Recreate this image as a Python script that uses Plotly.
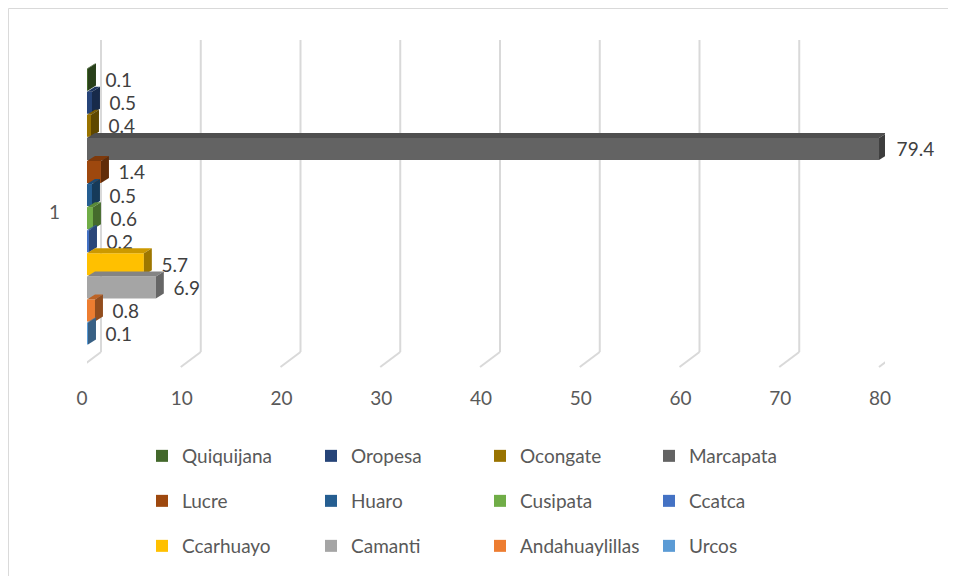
import plotly.graph_objects as go

# districts, top to bottom as drawn (legend order too)
districts = ["Quiquijana", "Oropesa", "Ocongate", "Marcapata",
             "Lucre", "Huaro", "Cusipata", "Ccatca",
             "Ccarhuayo", "Camanti", "Andahuaylillas", "Urcos"]
shares = [0.1, 0.5, 0.4, 79.4, 1.4, 0.5, 0.6, 0.2, 5.7, 6.9, 0.8, 0.1]
colors = ["#43682B", "#264478", "#997300", "#636363",
          "#9E480E", "#255E91", "#70AD47", "#4472C4",
          "#FFC000", "#A5A5A5", "#ED7D31", "#5B9BD5"]
category = ["1"]
x_ticks = [0, 10, 20, 30, 40, 50, 60, 70, 80]

FONT = "Lato, 'Open Sans', sans-serif"
legend_rows = ["legend", "legend2", "legend3"]

# plot box in figure pixels
L, T, B, PW, PH = 79, 32, 344, 797.6, 312
BARGAP, GROUPGAP = 0.112, 0.045
DX, DY = 0.8, 5  # fake 3d depth: x in data units, y in pixels


def shade(hexcol, k):
    r, g, b = (int(hexcol[i:i + 2], 16) for i in (1, 3, 5))
    return "rgb(%d,%d,%d)" % (r * k, g * k, b * k)


fig = go.Figure()
for i, (name, val, col) in enumerate(zip(districts, shares, colors)):
    fig.add_trace(go.Bar(
        y=category, x=[val], name=name, orientation="h",
        marker=dict(color=col, line=dict(width=0)),
        text=[val], texttemplate="\u00a0\u00a0\u00a0%{x}", textposition="outside",
        textfont=dict(size=19, color="#404040", family=FONT),
        constraintext="none", cliponaxis=False,
        legend=legend_rows[i // 4],
    ))

# top and side faces so the bars read as 3d blocks
slot = (1 - BARGAP) / len(districts)
half = slot * (1 - GROUPGAP) / 2 * PH  # half bar thickness in px
for i, (val, col) in enumerate(zip(shares, colors)):
    yc = -(1 - BARGAP) / 2 + (i + 0.5) * slot
    top = ("M 0,%.1f L %s,%.1f L %s,%.1f L %s,%.1f Z"
           % (half, val, half, val + DX, half + DY, DX, half + DY))
    side = ("M %s,%.1f L %s,%.1f L %s,%.1f L %s,%.1f Z"
            % (val, half, val, -half, val + DX, -half + DY, val + DX, half + DY))
    for path, k in ((top, 0.8), (side, 0.62)):
        fig.add_shape(type="path", xref="x", yref="y", ysizemode="pixel", yanchor=yc,
                      path=path, fillcolor=shade(col, k), line=dict(width=0))

# slanted 3d-ish gridlines: back wall + floor diagonal
for v in x_ticks:
    fig.add_shape(type="line", xref="x", yref="paper", xsizemode="pixel", xanchor=v,
                  x0=14, x1=14, y0=0, y1=1, line=dict(color="#d9d9d9", width=2), layer="below")
    fig.add_shape(type="line", xref="x", yref="paper", xsizemode="pixel", xanchor=v,
                  x0=14, x1=-6, y0=0, y1=-15 / PH, line=dict(color="#d9d9d9", width=2), layer="below")

# chart border
fig.add_shape(type="rect", xref="paper", yref="paper",
              x0=(0.5 - L) / PW, x1=(1000 - L) / PW,
              y0=(B - 620) / PH, y1=(B - 0.5) / PH,
              line=dict(color="#d9d9d9", width=1), fillcolor="rgba(0,0,0,0)", layer="below")

fig.update_xaxes(range=[0, 80], tickvals=x_ticks, showgrid=False, zeroline=False,
                 showline=False, ticks="", ticklabelstandoff=33, ticklabelshift=-5,
                 tickfont=dict(size=19, color="#595959", family=FONT), fixedrange=True)
fig.update_yaxes(type="category", range=[0.466, -0.534], showgrid=False, zeroline=False,
                 showline=False, ticks="", ticklabelstandoff=26, ticklabelshift=-6,
                 tickfont=dict(size=19, color="#595959", family=FONT))

leg = dict(orientation="h", xref="container", yref="container", x=134 / 956, xanchor="left",
           yanchor="middle", entrywidth=124, entrywidthmode="pixels",
           font=dict(size=19, color="#595959", family=FONT), bgcolor="rgba(0,0,0,0)")
fig.update_layout(
    width=956, height=576,
    margin=dict(l=L, r=956 - L - PW, t=T, b=576 - B, autoexpand=False),
    barmode="group", bargap=BARGAP, bargroupgap=GROUPGAP,
    plot_bgcolor="white", paper_bgcolor="white",
    showlegend=True,
    legend=dict(leg, y=1 - 448 / 576),
    legend2=dict(leg, y=1 - 493 / 576),
    legend3=dict(leg, y=1 - 538 / 576),
)

fig.write_html("out.html")
